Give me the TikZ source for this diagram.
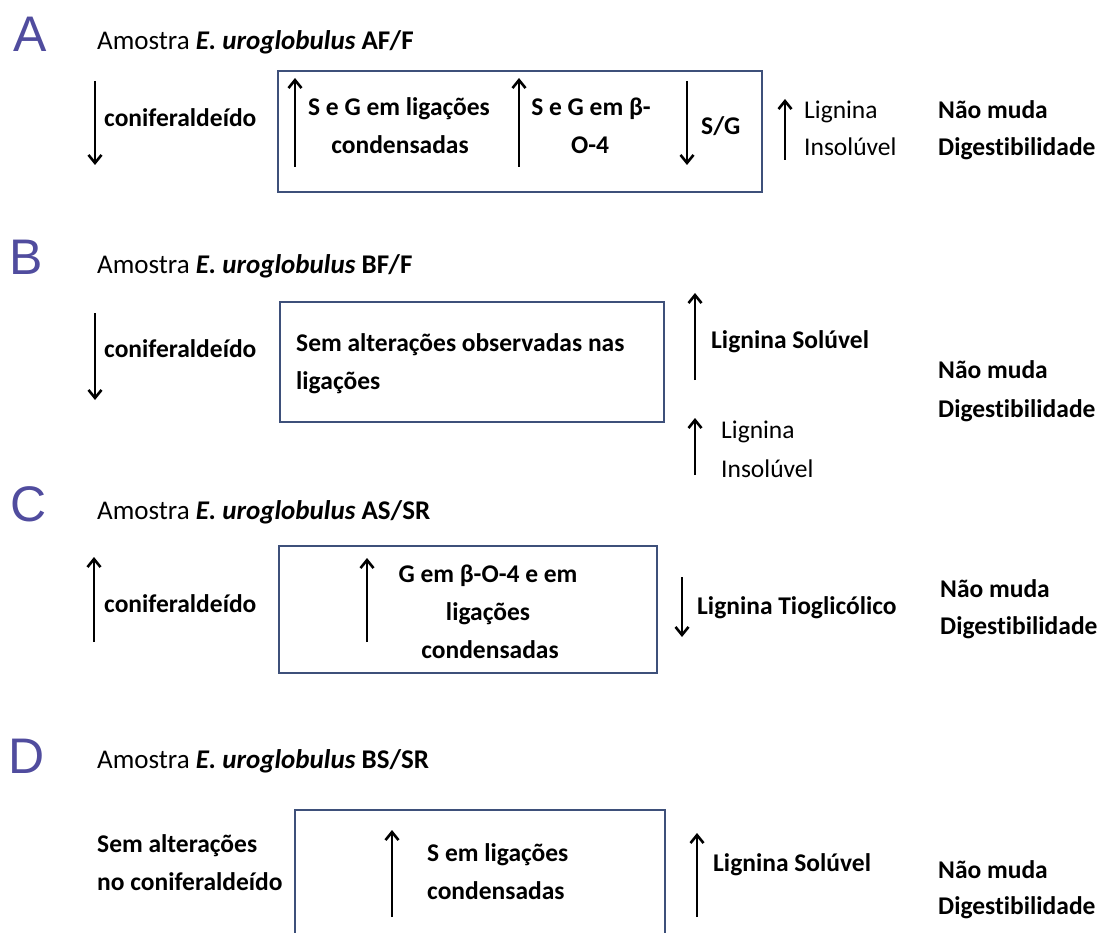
\documentclass[tikz,border=0pt]{standalone}
\usepackage{fontspec}
\setmainfont{Carlito}[Ligatures={NoCommon}]
\newfontfamily\letterfont{Liberation Sans}
\usetikzlibrary{arrows.meta}
\definecolor{lettercol}{RGB}{80,76,158}
\definecolor{boxcol}{RGB}{62,80,122}
\begin{document}
\begin{tikzpicture}[x=1pt,y=-1pt,
  lbl/.style={inner sep=0pt, anchor=base west, font=\fontsize{25.5}{38}\selectfont\bfseries},
  lblr/.style={inner sep=0pt, anchor=base west, font=\fontsize{25.5}{38}\selectfont},
  lblc/.style={inner sep=0pt, anchor=base, font=\fontsize{25.5}{38}\selectfont\bfseries},
  ttl/.style={inner sep=0pt, anchor=base west, font=\fontsize{27}{32}\selectfont},
  letter/.style={inner sep=0pt, anchor=base west, font=\fontsize{50}{56}\letterfont, text=lettercol},
  panel/.style={draw=boxcol, line width=2.8pt, anchor=north west, inner sep=0pt, outer sep=0pt},
  arr/.style={line width=2.6pt, -{Straight Barb[length=8pt,width=13pt]}}]
\useasboundingbox (0,0) rectangle (1108,933);

% ---------- A ----------
\node[letter] (LA) at (13,52) {A};
\node[ttl] (tA) at (97,50) {Amostra \textbf{\textit{E. uroglobulus}} \textbf{AF/F}};
\draw[arr] (95,81) -- (95,165);
\node[lbl] (cA) at (104,127) {coniferaldeído};
\node[panel, minimum width=484pt, minimum height=121pt] (boxA) at (278,71) {};
\draw[arr] (295,167) -- (295,78);
\node[lblc] (a1) at (399,116) {S e G em ligações};
\node[lblc] (a2) at (400,154) {condensadas};
\draw[arr] (519,167) -- (519,78);
\node[lblc] (a3) at (591,116) {S e G em β-};
\node[lblc] (a4) at (590,154) {O-4};
\draw[arr] (687,81) -- (687,165);
\node[lbl] (a5) at (701,135) {S/G};
\draw[arr] (785,160) -- (785,99);
\node[lblr] (a6) at (804,119) {Lignina};
\node[lblr] (a7) at (804,156) {Insolúvel};
\node[lbl] (a8) at (938,119) {Não muda};
\node[lbl] (a9) at (938,156) {Digestibilidade};

% ---------- B ----------
\node[letter] (LB) at (9.5,275) {B};
\node[ttl] (tB) at (97,273) {Amostra \textbf{\textit{E. uroglobulus}} \textbf{BF/F}};
\draw[arr] (95,313) -- (95,400);
\node[lbl] (cB) at (104,357) {coniferaldeído};
\node[panel, minimum width=384pt, minimum height=120pt] (boxB) at (280,302) {};
\node[lbl] (b1) at (296,351) {Sem alterações observadas nas};
\node[lbl] (b2) at (296,389) {ligações};
\draw[arr] (695,380) -- (695,293);
\node[lbl] (b3) at (711,348) {Lignina Solúvel};
\draw[arr] (695,475) -- (695,418);
\node[lblr] (b4) at (721,438) {Lignina};
\node[lblr] (b5) at (721,477) {Insolúvel};
\node[lbl] (b6) at (938,378) {Não muda};
\node[lbl] (b7) at (938,417) {Digestibilidade};

% ---------- C ----------
\node[letter] (LC) at (10.5,521) {C};
\node[ttl] (tC) at (97,519) {Amostra \textbf{\textit{E. uroglobulus}} \textbf{AS/SR}};
\draw[arr] (94,642) -- (94,557);
\node[lbl] (cC) at (104,612) {coniferaldeído};
\node[panel, minimum width=378pt, minimum height=127pt] (boxC) at (279,546) {};
\draw[arr] (367,642) -- (367,558);
\node[lblc] (c1) at (488,582) {G em β-O-4 e em};
\node[lblc] (c2) at (488,620) {ligações};
\node[lblc] (c3) at (490,658) {condensadas};
\draw[arr] (682,577) -- (682,637);
\node[lbl] (c4) at (697,614) {Lignina Tioglicólico};
\node[lbl] (c5) at (940,597) {Não muda};
\node[lbl] (c6) at (940,634) {Digestibilidade};

% ---------- D ----------
\node[letter] (LD) at (8,773) {D};
\node[ttl] (tD) at (97,768) {Amostra \textbf{\textit{E. uroglobulus}} \textbf{BS/SR}};
\node[lbl] (d1) at (97,852) {Sem alterações};
\node[lbl] (d2) at (97,890) {no coniferaldeído};
\begin{scope}
  \clip (0,0) rectangle (1108,933);
  \node[panel, minimum width=370pt, minimum height=160pt] (boxD) at (295,810) {};
\end{scope}
\draw[arr] (392,917) -- (392,830);
\node[lbl] (d3) at (427,861) {S em ligações};
\node[lbl] (d4) at (427,899) {condensadas};
\draw[arr] (697,917) -- (697,833);
\node[lbl] (d5) at (713,871) {Lignina Solúvel};
\node[lbl] (d6) at (938,878) {Não muda};
\node[lbl] (d7) at (938,914) {Digestibilidade};
\end{tikzpicture}
\end{document}
